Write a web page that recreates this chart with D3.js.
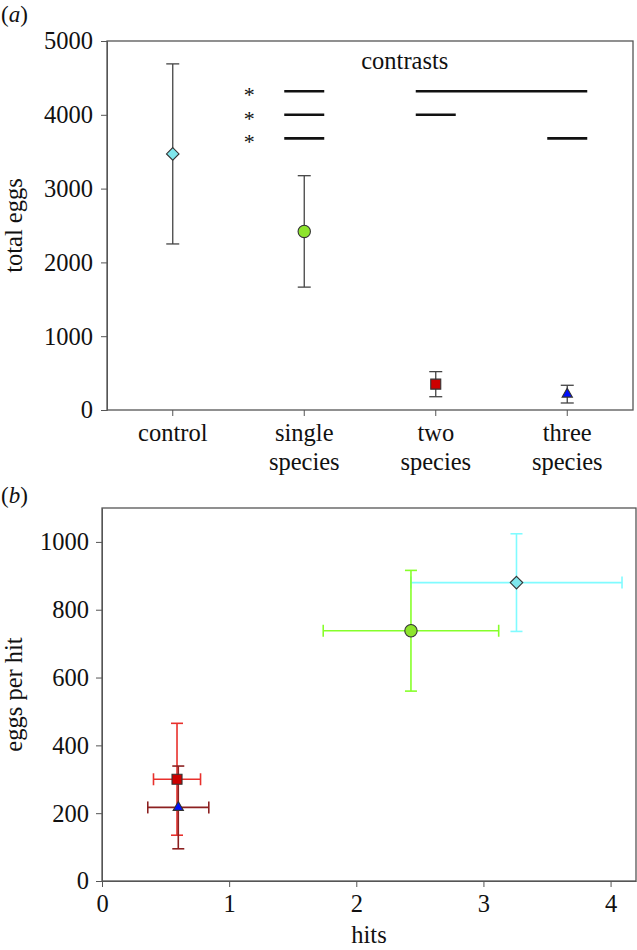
<!DOCTYPE html>
<html><head><meta charset="utf-8">
<script src="https://cdn.jsdelivr.net/npm/d3@7/dist/d3.min.js"></script>
<style>
html,body{margin:0;padding:0;background:#fff;}
svg text{font-family:"Liberation Serif","Times New Roman",serif;fill:#111;}
</style></head>
<body><svg id="c" width="637" height="950"></svg>
<script>
// ---- Panel (a) data ----
const categories = ["control","single species","two species","three species"];
const totalEggsMean = [3470, 2420, 350, 215];
const totalEggsErr  = [1220, 755, 170, 120];
const yTicksA = [0,1000,2000,3000,4000,5000];
// contrasts: rows at data level, groups of categories on each side
const contrastLevels = [4320, 4000, 3680];
const contrastLeft  = [["single species"],["single species"],["single species"]];
const contrastRight = [["two species","three species"],["two species"],["three species"]];

// ---- Panel (b) data ----
const hitsMean = [3.26, 2.43, 0.59, 0.60];
const hitsErr  = [0.83, 0.69, 0.185, 0.24];
const eggsPerHitMean = [880, 738, 300, 217];
const eggsPerHitErr  = [144, 178, 165, 122];
const xTicksB = [0,1,2,3,4];
const yTicksB = [0,200,400,600,800,1000];

const markers = ["diamond","circle","square","triangle"];
const markerFill = ["#7fe6ec","#8de42c","#cc0000","#0010ff"];
const barColorB = ["#80fbff","#86ff2a","#e8302c","#8c2020"];

const svg = d3.select("#c");
const FS = 24.5;

function markerPath(type){
  if(type==="diamond") return d3.symbol(d3.symbolDiamond2, 100)();
  if(type==="circle") return d3.symbol(d3.symbolCircle, 120)();
  if(type==="square") return d3.symbol(d3.symbolSquare, 100)();
  return d3.symbol(d3.symbolTriangle2, 75)();
}

// ================= Panel (a) =================
const A = {l:107, r:633, t:41, b:410};
const xA = d3.scaleBand().domain(categories).range([A.l, A.r]);
const yA = d3.scaleLinear().domain([0,5000]).range([A.b, A.t]);
const gA = svg.append("g");

gA.append("rect").attr("x",A.l).attr("y",A.t).attr("width",A.r-A.l).attr("height",A.b-A.t)
  .attr("fill","none").attr("stroke","#555").attr("stroke-width",1.3);

const axLA = gA.append("g").attr("transform",`translate(${A.l},0)`)
  .call(d3.axisLeft(yA).tickValues(yTicksA).tickSize(6).tickPadding(8).tickFormat(d3.format("d")));
axLA.select(".domain").attr("stroke","#555");
axLA.selectAll(".tick line").attr("stroke","#555");
axLA.selectAll("text").attr("font-size",FS).attr("fill","#111");

const axBA = gA.append("g").attr("transform",`translate(0,${A.b})`)
  .call(d3.axisBottom(xA).tickSize(6).tickSizeOuter(0).tickPadding(8).tickFormat(""));
axBA.select(".domain").remove();
axBA.selectAll(".tick line").attr("stroke","#555");
axBA.selectAll(".tick").each(function(d){
  const words = d.split(" ");
  const t = d3.select(this).append("text").attr("text-anchor","middle").attr("font-size",FS).attr("fill","#111");
  words.forEach((w,i)=> t.append("tspan").attr("x",0).attr("y",31 + i*29).text(w));
});

// y label
gA.append("text").attr("transform",`translate(22,${(A.t+A.b)/2}) rotate(-90)`)
  .attr("text-anchor","middle").attr("font-size",FS).text("total eggs");
// panel label
gA.append("text").attr("x",1).attr("y",22).attr("font-size",23).html('(<tspan font-style="italic">a</tspan>)');

// error bars
const capA = 6.5;
categories.forEach((c,i)=>{
  const cx = xA(c)+xA.bandwidth()/2;
  const y1 = yA(totalEggsMean[i]+totalEggsErr[i]), y0 = yA(totalEggsMean[i]-totalEggsErr[i]);
  const g = gA.append("g").attr("stroke","#444").attr("stroke-width",1.3);
  g.append("line").attr("x1",cx).attr("x2",cx).attr("y1",y1).attr("y2",y0);
  g.append("line").attr("x1",cx-capA).attr("x2",cx+capA).attr("y1",y1).attr("y2",y1);
  g.append("line").attr("x1",cx-capA).attr("x2",cx+capA).attr("y1",y0).attr("y2",y0);
  gA.append("path").attr("d",markerPath(markers[i]))
    .attr("transform",`translate(${cx},${yA(totalEggsMean[i])})`)
    .attr("fill",markerFill[i]).attr("stroke","#333").attr("stroke-width",1.1);
});

// contrasts
const mid = c => xA(c)+xA.bandwidth()/2;
const half = 20;
gA.append("text").attr("x", (mid("single species")+mid("three species"))/2 - 31).attr("y", yA(4620))
  .attr("text-anchor","middle").attr("font-size",FS).text("contrasts");
contrastLevels.forEach((lv,i)=>{
  const y = yA(lv);
  [contrastLeft[i], contrastRight[i]].forEach(grp=>{
    gA.append("line").attr("x1", mid(grp[0])-half).attr("x2", mid(grp[grp.length-1])+half)
      .attr("y1",y).attr("y2",y).attr("stroke","#111").attr("stroke-width",2.6);
  });
  gA.append("text").attr("x", mid("single species")-55).attr("y", y+11)
    .attr("text-anchor","middle").attr("font-size",22).attr("fill","#333").text("*");
});

// ================= Panel (b) =================
const B = {l:102, r:636, t:508, b:881};
const xB = d3.scaleLinear().domain([0,4.2]).range([B.l, B.r]);
const yB = d3.scaleLinear().domain([0,1100]).range([B.b, B.t]);
const gB = svg.append("g");

gB.append("rect").attr("x",B.l).attr("y",B.t).attr("width",B.r-B.l).attr("height",B.b-B.t)
  .attr("fill","none").attr("stroke","#555").attr("stroke-width",1.3);

const axLB = gB.append("g").attr("transform",`translate(${B.l},0)`)
  .call(d3.axisLeft(yB).tickValues(yTicksB).tickSize(6).tickSizeOuter(0).tickPadding(7).tickFormat(d3.format("d")));
axLB.select(".domain").attr("stroke","#555");
axLB.selectAll(".tick line").attr("stroke","#555");
axLB.selectAll("text").attr("font-size",FS).attr("fill","#111");

const axBB = gB.append("g").attr("transform",`translate(0,${B.b})`)
  .call(d3.axisBottom(xB).tickValues(xTicksB).tickSize(6).tickSizeOuter(0).tickPadding(8).tickFormat(d3.format("d")));
axBB.select(".domain").attr("stroke","#555");
axBB.selectAll(".tick line").attr("stroke","#555");
axBB.selectAll("text").attr("font-size",FS).attr("fill","#111");

gB.append("text").attr("x",(B.l+B.r)/2).attr("y",943).attr("text-anchor","middle").attr("font-size",FS).text("hits");
gB.append("text").attr("transform",`translate(22,${(B.t+B.b)/2}) rotate(-90)`)
  .attr("text-anchor","middle").attr("font-size",FS).text("eggs per hit");
gB.append("text").attr("x",1).attr("y",503).attr("font-size",23).html('(<tspan font-style="italic">b</tspan>)');

const capB = 6;
const order = [0,1,2,3];
order.forEach(i=>{
  const cx = xB(hitsMean[i]), cy = yB(eggsPerHitMean[i]);
  const xl = xB(hitsMean[i]-hitsErr[i]), xr = xB(hitsMean[i]+hitsErr[i]);
  const yt = yB(eggsPerHitMean[i]+eggsPerHitErr[i]), yb = yB(eggsPerHitMean[i]-eggsPerHitErr[i]);
  const g = gB.append("g").attr("stroke",barColorB[i]).attr("stroke-width",1.6);
  g.append("line").attr("x1",cx).attr("x2",cx).attr("y1",yt).attr("y2",yb);
  g.append("line").attr("x1",xl).attr("x2",xr).attr("y1",cy).attr("y2",cy);
  g.append("line").attr("x1",cx-capB).attr("x2",cx+capB).attr("y1",yt).attr("y2",yt);
  g.append("line").attr("x1",cx-capB).attr("x2",cx+capB).attr("y1",yb).attr("y2",yb);
  g.append("line").attr("x1",xl).attr("x2",xl).attr("y1",cy-capB).attr("y2",cy+capB);
  g.append("line").attr("x1",xr).attr("x2",xr).attr("y1",cy-capB).attr("y2",cy+capB);
});
order.forEach(i=>{
  gB.append("path").attr("d",markerPath(markers[i]))
    .attr("transform",`translate(${xB(hitsMean[i])},${yB(eggsPerHitMean[i])})`)
    .attr("fill",markerFill[i]).attr("stroke","#333").attr("stroke-width",1.1);
});
</script></body></html>
